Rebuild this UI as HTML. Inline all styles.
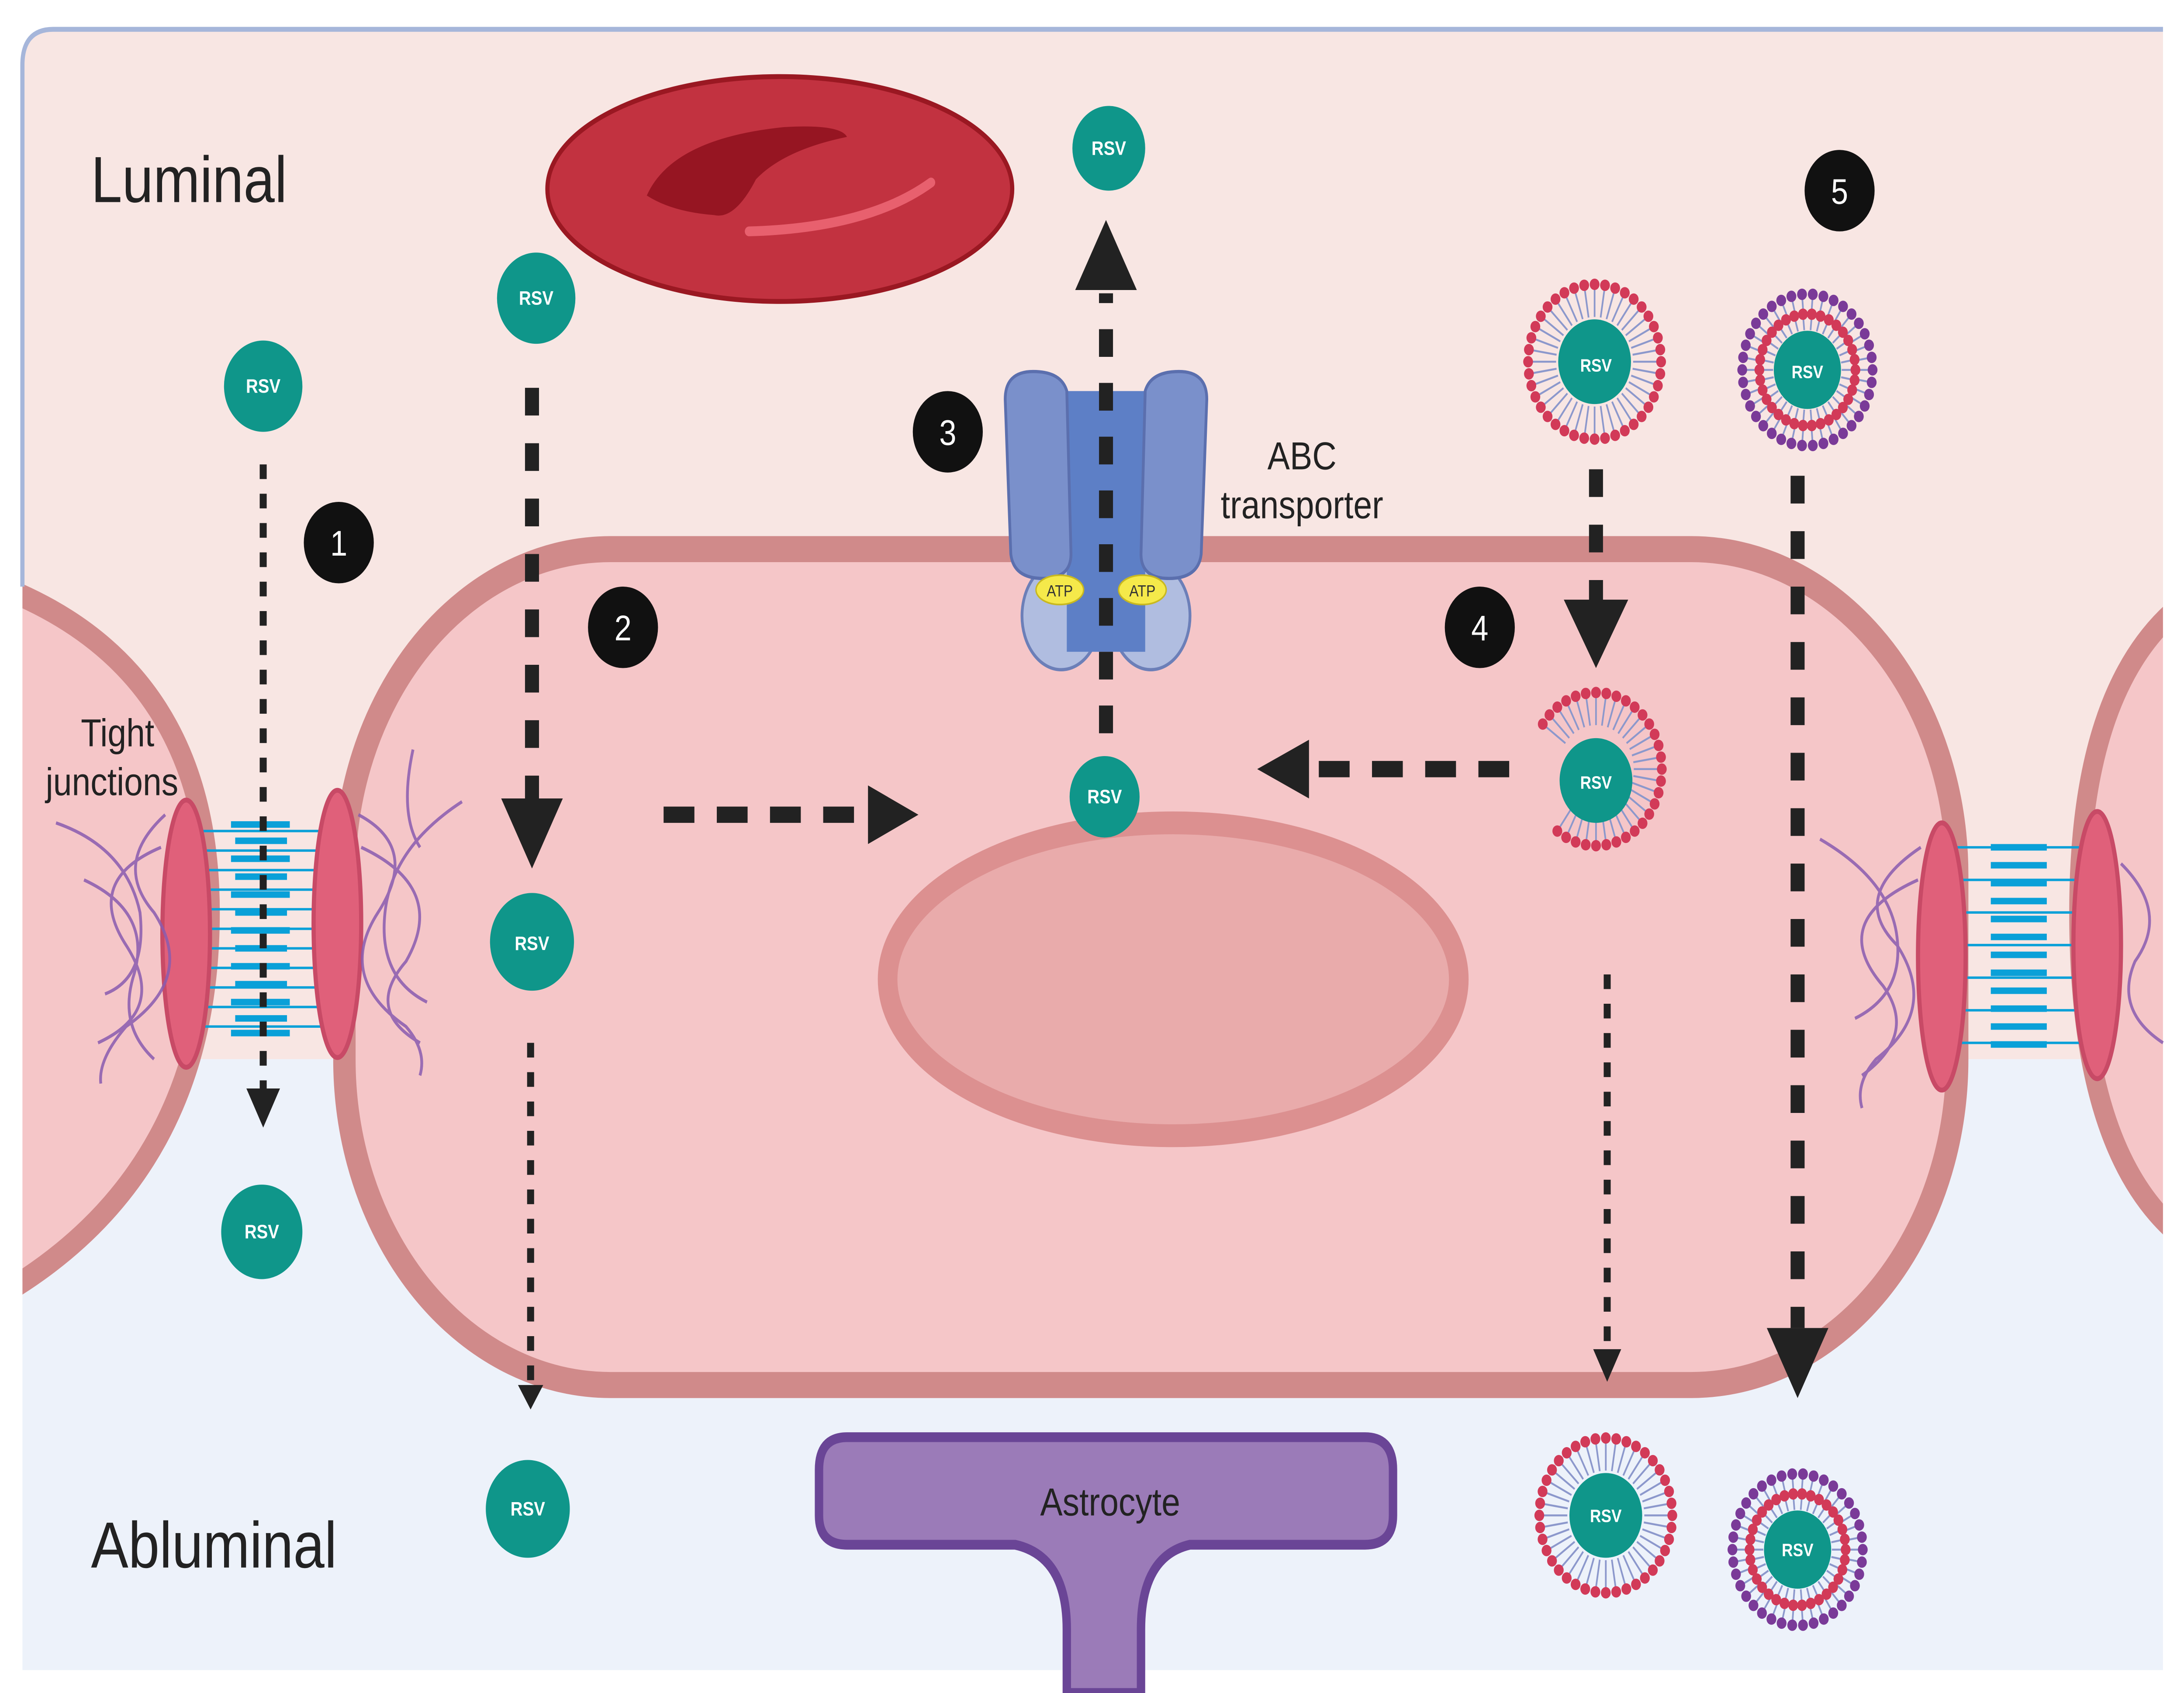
<!DOCTYPE html>
<html><head><meta charset="utf-8"><style>
html,body{margin:0;padding:0;background:#fff;width:100%;height:100%;overflow:hidden}
svg{display:block;width:100vw;height:100vh}
text{font-family:"Liberation Sans",sans-serif}
</style></head><body>
<svg id="s" viewBox="0 0 1560 1039" preserveAspectRatio="none" xmlns="http://www.w3.org/2000/svg">
<defs>
<clipPath id="panel"><path d="M16,40 Q16,18 38,18 L1545,18 L1545,1025 L16,1025 Z"/></clipPath>
</defs>
<g clip-path="url(#panel)">
<rect x="0" y="0" width="1560" height="1039" fill="#edf2fa"/>
<rect x="0" y="0" width="1560" height="650" fill="#f8e6e3"/>
<path d="M0,360 Q150,410 150,560 Q150,720 0,795 Z" fill="#f5c6c8" stroke="#d08a8a" stroke-width="14"/>
<path d="M1560,370 Q1485,420 1485,560 Q1485,710 1560,760 Z" fill="#f5c6c8" stroke="#d08a8a" stroke-width="14"/>
</g>
<path d="M16,360 L16,40 Q16,18 38,18 L1545,18" fill="none" stroke="#a6b6da" stroke-width="3"/>
<rect x="246" y="337" width="1152" height="513" rx="190" ry="200" fill="#f5c6c8" stroke="#d08a8a" stroke-width="16"/>
<ellipse cx="838" cy="601" rx="204" ry="96" fill="#e9abab" stroke="#dc9090" stroke-width="14"/>
<ellipse cx="557" cy="116" rx="166" ry="69" fill="#c23240" stroke="#9a1822" stroke-width="3"/>
<path d="M462,120 Q480,85 560,78 Q600,76 605,84 Q560,92 540,110 Q525,135 510,132 Q480,130 462,120 Z" fill="#961522"/>
<path d="M535,142 Q620,140 665,112" fill="none" stroke="#e8606e" stroke-width="6" stroke-linecap="round"/>
<g>
<g stroke="#0aa0d8" stroke-width="1.5">
<line x1="140" y1="510" x2="240" y2="510"/><line x1="140" y1="522" x2="240" y2="522"/><line x1="140" y1="534" x2="240" y2="534"/><line x1="140" y1="546" x2="240" y2="546"/><line x1="140" y1="558" x2="240" y2="558"/><line x1="140" y1="570" x2="240" y2="570"/><line x1="140" y1="582" x2="240" y2="582"/><line x1="140" y1="594" x2="240" y2="594"/><line x1="140" y1="606" x2="240" y2="606"/><line x1="140" y1="618" x2="240" y2="618"/><line x1="140" y1="630" x2="240" y2="630"/>
</g>
<g stroke="#0aa0d8" stroke-width="4">
<line x1="165" y1="506" x2="207" y2="506"/><line x1="168" y1="516" x2="205" y2="516"/><line x1="165" y1="527" x2="207" y2="527"/><line x1="168" y1="538" x2="205" y2="538"/><line x1="165" y1="549" x2="207" y2="549"/><line x1="168" y1="560" x2="205" y2="560"/><line x1="165" y1="571" x2="207" y2="571"/><line x1="168" y1="582" x2="205" y2="582"/><line x1="165" y1="593" x2="207" y2="593"/><line x1="168" y1="604" x2="205" y2="604"/><line x1="165" y1="615" x2="207" y2="615"/><line x1="168" y1="625" x2="205" y2="625"/><line x1="165" y1="634" x2="207" y2="634"/>
</g>
<ellipse cx="133" cy="573" rx="17" ry="82" fill="#e0607a" stroke="#c84a66" stroke-width="3"/>
<ellipse cx="241" cy="567" rx="17" ry="82" fill="#e0607a" stroke="#c84a66" stroke-width="3"/>
<g fill="none" stroke="#8a5cb0" stroke-width="2" opacity="0.85">
<path d="M118,500 Q80,530 110,560 Q140,600 90,630 Q70,650 72,665"/>
<path d="M115,520 Q60,540 90,580 Q120,620 70,640"/>
<path d="M40,505 Q90,520 100,560 Q105,600 75,610"/>
<path d="M60,540 Q110,560 95,600 Q85,630 110,650"/>
<path d="M256,500 Q300,520 270,560 Q240,600 290,630 Q305,645 300,660"/>
<path d="M258,520 Q320,545 290,590 Q260,620 300,640"/>
<path d="M330,492 Q280,520 275,560 Q270,600 305,615"/>
<path d="M295,460 Q285,500 300,520"/>
</g>
</g>
<g transform="translate(1520,10)">
<g stroke="#0aa0d8" stroke-width="1.5">
<line x1="-130" y1="510" x2="-30" y2="510"/><line x1="-130" y1="530" x2="-30" y2="530"/><line x1="-130" y1="550" x2="-30" y2="550"/><line x1="-130" y1="570" x2="-30" y2="570"/><line x1="-130" y1="590" x2="-30" y2="590"/><line x1="-130" y1="610" x2="-30" y2="610"/><line x1="-130" y1="630" x2="-30" y2="630"/>
</g>
<g stroke="#0aa0d8" stroke-width="4">
<line x1="-98" y1="510" x2="-58" y2="510"/><line x1="-98" y1="521" x2="-58" y2="521"/><line x1="-98" y1="532" x2="-58" y2="532"/><line x1="-98" y1="543" x2="-58" y2="543"/><line x1="-98" y1="554" x2="-58" y2="554"/><line x1="-98" y1="565" x2="-58" y2="565"/><line x1="-98" y1="576" x2="-58" y2="576"/><line x1="-98" y1="587" x2="-58" y2="587"/><line x1="-98" y1="598" x2="-58" y2="598"/><line x1="-98" y1="609" x2="-58" y2="609"/><line x1="-98" y1="620" x2="-58" y2="620"/><line x1="-98" y1="631" x2="-58" y2="631"/>
</g>
<ellipse cx="-133" cy="577" rx="17" ry="82" fill="#e0607a" stroke="#c84a66" stroke-width="3"/>
<ellipse cx="-22" cy="570" rx="17" ry="82" fill="#e0607a" stroke="#c84a66" stroke-width="3"/>
<g fill="none" stroke="#8a5cb0" stroke-width="2" opacity="0.85">
<path d="M-148,510 Q-200,540 -165,570 Q-135,610 -180,640 Q-195,655 -190,670"/>
<path d="M-150,530 Q-215,555 -175,595 Q-150,625 -190,650"/>
<path d="M-220,505 Q-170,530 -165,565 Q-160,600 -195,615"/>
<path d="M-5,520 Q30,550 5,580 Q-10,610 25,630"/>
</g>
</g>
<g>
<ellipse cx="758" cy="378" rx="28" ry="33" fill="#b0bde0" stroke="#6c7fb8" stroke-width="2"/>
<ellipse cx="822" cy="378" rx="28" ry="33" fill="#b0bde0" stroke="#6c7fb8" stroke-width="2"/>
<rect x="762" y="240" width="56" height="160" fill="#5d7fc6"/>
<path d="M718,245 Q718,228 738,228 Q758,228 762,240 L765,340 Q765,355 745,355 Q724,355 722,340 Z" fill="#7a90cb" stroke="#5b6fae" stroke-width="2"/>
<path d="M862,245 Q862,228 842,228 Q822,228 818,240 L815,340 Q815,355 835,355 Q856,355 858,340 Z" fill="#7a90cb" stroke="#5b6fae" stroke-width="2"/>
<ellipse cx="757" cy="362" rx="17" ry="9" fill="#f5e94a" stroke="#c8b820"/>
<ellipse cx="816" cy="362" rx="17" ry="9" fill="#f5e94a" stroke="#c8b820"/>
<text x="757" y="366" font-size="10" text-anchor="middle" fill="#333">ATP</text>
<text x="816" y="366" font-size="10" text-anchor="middle" fill="#333">ATP</text>
</g>
<path d="M605,882 L975,882 Q995,882 995,902 L995,930 Q995,948 975,948 L850,948 Q815,955 815,1000 L815,1039 L762,1039 L762,1000 Q762,955 725,948 L605,948 Q585,948 585,930 L585,902 Q585,882 605,882 Z" fill="#9b7bb8" stroke="#6a4596" stroke-width="6"/>
<g id="lipos"></g>
<g stroke="#222" fill="none">
<line x1="188" y1="285" x2="188" y2="668" stroke-width="5" stroke-dasharray="9,9"/>
<line x1="380" y1="238" x2="380" y2="495" stroke-width="10" stroke-dasharray="17,17"/>
<line x1="474" y1="500" x2="620" y2="500" stroke-width="10" stroke-dasharray="22,16"/>
<line x1="790" y1="450" x2="790" y2="180" stroke-width="10" stroke-dasharray="17,16"/>
<line x1="1078" y1="472" x2="935" y2="472" stroke-width="10" stroke-dasharray="22,16"/>
<line x1="1140" y1="288" x2="1140" y2="370" stroke-width="10" stroke-dasharray="17,17"/>
<line x1="1284" y1="292" x2="1284" y2="815" stroke-width="10" stroke-dasharray="17,17"/>
<line x1="379" y1="640" x2="379" y2="850" stroke-width="5" stroke-dasharray="9,9"/>
<line x1="1148" y1="598" x2="1148" y2="828" stroke-width="5" stroke-dasharray="9,9"/>
</g>
<g fill="#222">
<polygon points="176,668 200,668 188,692"/>
<polygon points="358,490 402,490 380,533"/>
<polygon points="620,482 620,518 656,500"/>
<polygon points="768,178 812,178 790,135"/>
<polygon points="935,454 935,490 898,472"/>
<polygon points="1117,368 1163,368 1140,410"/>
<polygon points="1262,815 1306,815 1284,858"/>
<polygon points="370,850 388,850 379,865"/>
<polygon points="1138,828 1158,828 1148,848"/>
</g>
<g fill="#0f968a">
<circle cx="188" cy="237" r="28"/><circle cx="383" cy="183" r="28"/><circle cx="792" cy="91" r="26"/>
<circle cx="380" cy="578" r="30"/><circle cx="789" cy="489" r="25"/><circle cx="187" cy="756" r="29"/>
<circle cx="377" cy="926" r="30"/>
</g>
<g fill="#fff" font-size="12" font-weight="bold" text-anchor="middle">
<text x="188" y="241">RSV</text><text x="383" y="187">RSV</text><text x="792" y="95">RSV</text>
<text x="380" y="583">RSV</text><text x="789" y="493">RSV</text><text x="187" y="760">RSV</text>
<text x="377" y="930">RSV</text>
</g>
<g fill="#111">
<circle cx="242" cy="333" r="25"/><circle cx="445" cy="385" r="25"/><circle cx="677" cy="265" r="25"/>
<circle cx="1057" cy="385" r="25"/><circle cx="1314" cy="117" r="25"/>
</g>
<g fill="#fff" font-size="22" text-anchor="middle">
<text x="242" y="341">1</text><text x="445" y="393">2</text><text x="677" y="273">3</text>
<text x="1057" y="393">4</text><text x="1314" y="125">5</text>
</g>
<g fill="#222">
<text x="65" y="124" font-size="40">Luminal</text>
<text x="65" y="962" font-size="40">Abluminal</text>
<text x="84" y="458" font-size="24" text-anchor="middle">Tight</text>
<text x="80" y="488" font-size="24" text-anchor="middle">junctions</text>
<text x="930" y="288" font-size="24" text-anchor="middle">ABC</text>
<text x="930" y="318" font-size="24" text-anchor="middle">transporter</text>
<text x="793" y="930" font-size="24" text-anchor="middle">Astrocyte</text>
</g>
<g id="lipRSV" fill="#fff" font-size="11" font-weight="bold" text-anchor="middle">
<text x="1140" y="228">RSV</text><text x="1291" y="232">RSV</text><text x="1140" y="484">RSV</text>
<text x="1147" y="934">RSV</text><text x="1284" y="955">RSV</text>
</g>
</svg>
<script>
(function(){
var ns="http://www.w3.org/2000/svg",g=document.getElementById("lipos");
function el(n,a){var e=document.createElementNS(ns,n);for(var k in a)e.setAttribute(k,a[k]);g.appendChild(e);}
function ring(cx,cy,rOut,rIn,n,col,skip){
 for(var i=0;i<n;i++){var t=i/n*2*Math.PI;if(skip&&skip(t))continue;
  el("line",{x1:cx+rIn*Math.cos(t),y1:cy+rIn*Math.sin(t),x2:cx+rOut*Math.cos(t),y2:cy+rOut*Math.sin(t),stroke:"#8c98cc","stroke-width":1.2});
  el("circle",{cx:cx+rOut*Math.cos(t),cy:cy+rOut*Math.sin(t),r:3.5,fill:col});}
}
function lipo(cx,cy,r,core){ring(cx,cy,r*0.95,r*0.55,40,"#d23a58");el("circle",{cx:cx,cy:cy,r:core,fill:"#0f968a"});}
function lipo2(cx,cy,r,core){ring(cx,cy,r*0.95,r*0.72,38,"#7a3a98");ring(cx,cy,r*0.7,r*0.5,34,"#d23a58");el("circle",{cx:cx,cy:cy,r:core,fill:"#0f968a"});}
lipo(1139,222,50,26);
lipo2(1291,227,49,24);
ring(1140,472,47,27,40,"#d23a58",function(t){return t>2.3&&t<3.75;});
el("circle",{cx:1140,cy:479,r:26,fill:"#0f968a"});
lipo(1147,930,50,26);
lipo2(1284,951,49,24);
})();
</script>
</body></html>
